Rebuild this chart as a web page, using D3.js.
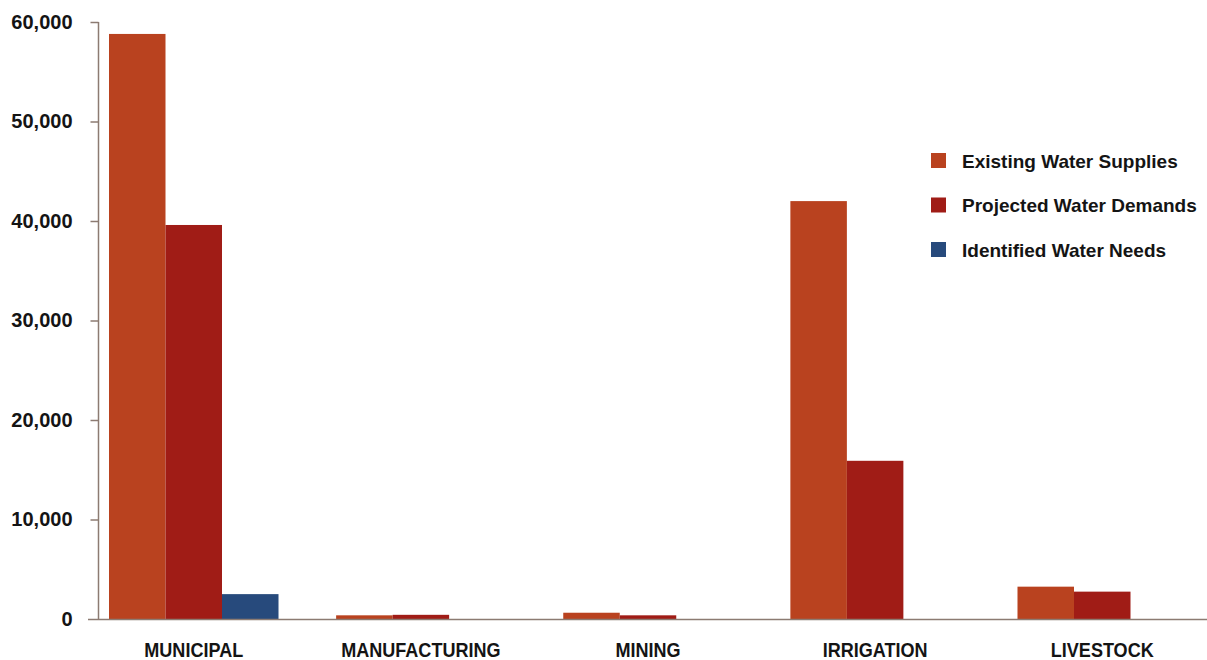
<!DOCTYPE html>
<html>
<head>
<meta charset="utf-8">
<script src="https://cdn.jsdelivr.net/npm/d3@7"></script>
<style>
  html, body { margin: 0; padding: 0; background: #ffffff; }
  svg { display: block; }
  text { font-family: "Liberation Sans", Arial, sans-serif; font-weight: bold; fill: #141414; }
</style>
</head>
<body>
<svg id="chart" width="1207" height="660"></svg>
<script>
// Water use categories and the three series (acre-feet per year)
const categories = ["MUNICIPAL", "MANUFACTURING", "MINING", "IRRIGATION", "LIVESTOCK"];
const seriesNames = ["Existing Water Supplies", "Projected Water Demands", "Identified Water Needs"];
const existingSupplies = [58800, 370, 630, 42000, 3250];
const projectedDemands = [39600, 420, 370, 15900, 2750];
const identifiedNeeds  = [2500, 0, 0, 0, 0];
const yTicks = [0, 10000, 20000, 30000, 40000, 50000, 60000];
const seriesColors = ["#b9421f", "#a01c16", "#274a7c"];

const seriesValues = [existingSupplies, projectedDemands, identifiedNeeds];
const rows = categories.map((c, i) => ({
  category: c,
  values: seriesNames.map((s, j) => ({ series: s, value: seriesValues[j][i] }))
}));

const svg = d3.select("#chart");
const axisColor = "#8c7b72";

// Scales
const y = d3.scaleLinear().domain([0, 60000]).range([619, 22]);
const x0 = d3.scaleBand().domain(categories).range([109, 1187])
  .paddingInner(0.2537).paddingOuter(0);
const x1 = d3.scaleBand().domain(seriesNames).range([0, x0.bandwidth()]).padding(0);
const color = d3.scaleOrdinal().domain(seriesNames).range(seriesColors);

// Bars
const groups = svg.append("g").selectAll("g")
  .data(rows).join("g")
  .attr("transform", d => `translate(${x0(d.category)},0)`);

groups.selectAll("rect")
  .data(d => d.values.filter(v => v.value > 0))
  .join("rect")
  .attr("x", v => x1(v.series))
  .attr("width", x1.bandwidth())
  .attr("y", v => y(v.value))
  .attr("height", v => y(0) - y(v.value))
  .attr("fill", v => color(v.series));

// Y axis
const yAxis = svg.append("g")
  .attr("transform", "translate(98.5,0)")
  .call(d3.axisLeft(y).tickValues(yTicks).tickSize(8).tickPadding(18)
    .tickFormat(d3.format(",")));
yAxis.select(".domain").attr("stroke", axisColor).attr("stroke-width", 1.5)
  .attr("d", `M0,${y(60000)}V${y(0)}`);
yAxis.selectAll(".tick line").attr("stroke", axisColor).attr("stroke-width", 1.5);
yAxis.selectAll(".tick text")
  .attr("font-size", 20)
  .attr("font-family", "'Liberation Sans', Arial, sans-serif")
  .attr("font-weight", "bold")
  .attr("fill", "#141414");
yAxis.selectAll(".tick").filter(d => d === 0).select("line").remove();

// Baseline
svg.append("line")
  .attr("x1", 88).attr("x2", 1207)
  .attr("y1", y(0) + 0.5).attr("y2", y(0) + 0.5)
  .attr("stroke", axisColor).attr("stroke-width", 1.5);

// Category labels (condensed lettering)
svg.append("g").selectAll("text")
  .data(categories).join("text")
  .attr("transform", d => `translate(${x0(d) + x0.bandwidth() / 2},657) scale(0.86,1)`)
  .attr("text-anchor", "middle")
  .attr("font-size", 21)
  .text(d => d);

// Legend
const legend = svg.append("g").attr("transform", "translate(931,153)");
const items = legend.selectAll("g").data(seriesNames).join("g")
  .attr("transform", (d, i) => `translate(0,${i * 44.5})`);
items.append("rect").attr("width", 15).attr("height", 15).attr("fill", d => color(d));
items.append("text").attr("x", 31).attr("y", 14.5).attr("font-size", 19).text(d => d);
</script>
</body>
</html>
